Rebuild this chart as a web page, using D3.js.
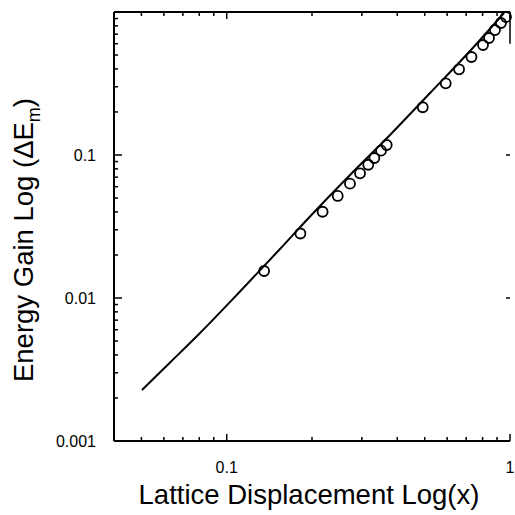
<!DOCTYPE html>
<html><head><meta charset="utf-8">
<script src="https://cdn.jsdelivr.net/npm/d3@7"></script>
<style>body{margin:0;background:#fff}svg{display:block}</style>
</head><body>
<script>
// Data
const pointX = [0.1355, 0.182, 0.218, 0.2465, 0.2723, 0.2955, 0.316, 0.332, 0.3505, 0.367, 0.492, 0.593, 0.661, 0.731, 0.803, 0.843, 0.885, 0.929, 0.968];
const pointY = [0.01545, 0.02825, 0.0401, 0.0517, 0.063, 0.0745, 0.0855, 0.0953, 0.1072, 0.1175, 0.2157, 0.317, 0.3975, 0.4845, 0.5877, 0.658, 0.748, 0.838, 0.923];
const lineX = [0.0502, 0.0631, 0.0805, 0.1114, 0.1542, 0.1916, 0.2724, 0.377, 0.522, 0.7225, 0.952];
const lineY = [0.00227, 0.00354, 0.00569, 0.0111, 0.0220, 0.0351, 0.0725, 0.138, 0.2714, 0.5337, 0.984];
const xTickLabels = [0.1, 1];
const yTickLabels = [0.001, 0.01, 0.1];
const xDomain = [0.04, 1];
const yDomain = [0.001, 1];

const W = 515, H = 515;
const m = {left: 114, right: 5, top: 12, bottom: 74};
const svg = d3.select("body").append("svg").attr("width", W).attr("height", H);
const x = d3.scaleLog().domain(xDomain).range([m.left, W - m.right]);
const y = d3.scaleLog().domain(yDomain).range([H - m.bottom, m.top]);
const font = "Liberation Sans, Arial, sans-serif";

function minorTicks(scale) {
  return scale.ticks().filter(v => v >= scale.domain()[0] - 1e-12 && v <= scale.domain()[1] + 1e-12);
}
const isMajor = v => Math.abs(Math.log10(v) - Math.round(Math.log10(v))) < 1e-9;

// bottom axis
const gB = svg.append("g").attr("transform", `translate(0,${H - m.bottom})`);
gB.append("line").attr("x1", x.range()[0]).attr("x2", x.range()[1]).attr("stroke", "#000").attr("stroke-width", 2);
gB.selectAll("line.t").data(minorTicks(x)).join("line").attr("class", "t")
  .attr("x1", d => x(d)).attr("x2", d => x(d)).attr("y1", 0).attr("y2", d => isMajor(d) ? -7 : -4)
  .attr("stroke", "#000").attr("stroke-width", 1.5);
gB.selectAll("text").data(xTickLabels).join("text")
  .attr("x", d => x(d)).attr("y", 32).attr("text-anchor", "middle")
  .attr("font-family", font).attr("font-size", 16).text(d => d);

// top axis
const gT = svg.append("g").attr("transform", `translate(0,${m.top})`);
gT.append("line").attr("x1", x.range()[0]).attr("x2", x.range()[1]).attr("stroke", "#000").attr("stroke-width", 2);
gT.selectAll("line.t").data(minorTicks(x)).join("line").attr("class", "t")
  .attr("x1", d => x(d)).attr("x2", d => x(d)).attr("y1", 0).attr("y2", d => isMajor(d) ? 7 : 4)
  .attr("stroke", "#000").attr("stroke-width", 1.5);

// left axis
const gL = svg.append("g").attr("transform", `translate(${m.left},0)`);
gL.append("line").attr("y1", y.range()[0]).attr("y2", y.range()[1]).attr("stroke", "#000").attr("stroke-width", 2);
gL.selectAll("line.t").data(minorTicks(y)).join("line").attr("class", "t")
  .attr("y1", d => y(d)).attr("y2", d => y(d)).attr("x1", 0).attr("x2", d => isMajor(d) ? 8 : 4)
  .attr("stroke", "#000").attr("stroke-width", 1.5);
gL.selectAll("text").data(yTickLabels).join("text")
  .attr("x", -18).attr("y", d => y(d)).attr("dy", "0.35em").attr("text-anchor", "end")
  .attr("font-family", font).attr("font-size", 16).text(d => d);

// right axis (faint in the scan: ticks only)
const gR = svg.append("g").attr("transform", `translate(${W - m.right},0)`);
gR.selectAll("line.t").data(yTickLabels).join("line").attr("class", "t")
  .attr("y1", d => y(d)).attr("y2", d => y(d)).attr("x1", 0).attr("x2", -4)
  .attr("stroke", "#000").attr("stroke-width", 1.5);
gR.append("line").attr("y1", y(1)).attr("y2", y(0.6)).attr("stroke", "#000").attr("stroke-width", 1.5);

// curve
const lineData = lineX.map((v, i) => [v, lineY[i]]);
svg.append("path").datum(lineData)
  .attr("d", d3.line().x(d => x(d[0])).y(d => y(d[1])).curve(d3.curveMonotoneX))
  .attr("fill", "none").attr("stroke", "#000").attr("stroke-width", 2);

// points
const pts = pointX.map((v, i) => [v, pointY[i]]);
svg.selectAll("circle").data(pts).join("circle")
  .attr("cx", d => x(d[0])).attr("cy", d => y(d[1])).attr("r", 5)
  .attr("fill", "none").attr("stroke", "#000").attr("stroke-width", 1.8);

// titles
svg.append("text").attr("x", 309).attr("y", 504).attr("text-anchor", "middle")
  .attr("font-family", font).attr("font-size", 27.5).text("Lattice Displacement Log(x)");
const yt = svg.append("text").attr("transform", "translate(33,240) rotate(-90)").attr("text-anchor", "middle")
  .attr("font-family", font).attr("font-size", 27.5);
yt.append("tspan").text("Energy Gain Log (\u0394E");
yt.append("tspan").attr("font-size", 18).attr("dy", 7).text("m");
yt.append("tspan").attr("dy", -7).text(")");
</script>
</body></html>
